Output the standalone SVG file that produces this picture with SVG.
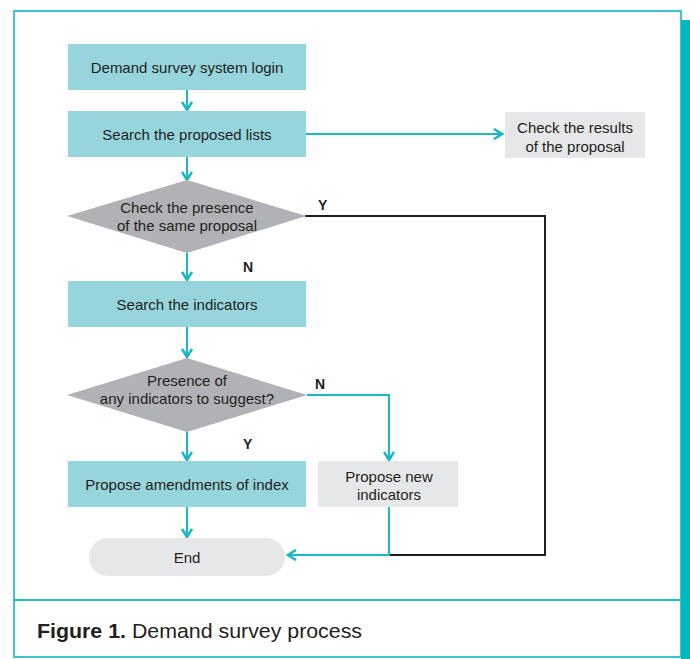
<svg xmlns="http://www.w3.org/2000/svg" width="690" height="659" viewBox="0 0 690 659">
<defs>
<style>
.box{fill:#96d5dc}
.gbox{fill:#e6e7e8}
.dia{fill:#b1b2b6}
.t{font-family:"Liberation Sans",Arial,sans-serif;font-size:15px;fill:#231f20;text-anchor:middle}
.lbl{font-family:"Liberation Sans",Arial,sans-serif;font-size:14px;font-weight:bold;fill:#231f20}
.c{fill:none;stroke:#1ab8c0;stroke-width:2}
.k{fill:none;stroke:#231f20;stroke-width:2}
</style>
<marker id="ah" viewBox="0 0 12 12" refX="10" refY="6" markerWidth="12" markerHeight="12" markerUnits="userSpaceOnUse" orient="auto">
<path d="M2,1 L10,6 L2,11" fill="none" stroke="#1ab8c0" stroke-width="2.6"/>
</marker>
</defs>
<rect width="690" height="659" fill="#ffffff"/>
<g id="frame">
<rect x="14" y="11" width="667" height="646" fill="none" stroke="#3cc6c9" stroke-width="2"/>
<line x1="14" y1="600" x2="681" y2="600" stroke="#1fc0c5" stroke-width="2"/>
<rect x="681" y="20" width="9" height="639" fill="#00b8bf"/>
</g>
<g id="connectors">
<line class="c" x1="187" y1="90" x2="187" y2="110" marker-end="url(#ah)"/>
<line class="c" x1="306" y1="134" x2="502" y2="134" marker-end="url(#ah)"/>
<line class="c" x1="187" y1="157" x2="187" y2="180" marker-end="url(#ah)"/>
<line class="c" x1="187" y1="253" x2="187" y2="280" marker-end="url(#ah)"/>
<line class="c" x1="187" y1="327" x2="187" y2="357" marker-end="url(#ah)"/>
<line class="c" x1="187" y1="432" x2="187" y2="460" marker-end="url(#ah)"/>
<line class="c" x1="187" y1="507" x2="187" y2="537" marker-end="url(#ah)"/>
<polyline class="c" points="307,395 389,395 389,460" marker-end="url(#ah)"/>
<polyline class="k" points="305,216 545,216 545,555 389,555"/>
<polyline class="c" points="389,507 389,555 288,555" marker-end="url(#ah)"/>
<text class="lbl" x="318" y="210">Y</text>
<text class="lbl" x="243" y="272">N</text>
<text class="lbl" x="315" y="389">N</text>
<text class="lbl" x="243" y="449">Y</text>
</g>
<g id="n1"><rect class="box" x="68" y="44" width="238" height="46"/><text class="t" x="187" y="73">Demand survey system login</text></g>
<g id="n2"><rect class="box" x="68" y="111" width="238" height="46"/><text class="t" x="187" y="140">Search the proposed lists</text></g>
<g id="n3"><rect class="gbox" x="505" y="112" width="140" height="46"/><text class="t" x="575" y="133">Check the results</text><text class="t" x="575" y="152">of the proposal</text></g>
<g id="d1"><polygon class="dia" points="187,180 306,216 187,253 67,216"/><text class="t" x="187" y="213">Check the presence</text><text class="t" x="187" y="231">of the same proposal</text></g>
<g id="n4"><rect class="box" x="68" y="281" width="238" height="46"/><text class="t" x="187" y="310">Search the indicators</text></g>
<g id="d2"><polygon class="dia" points="187,358 307,395 187,432 67,395"/><text class="t" x="187" y="386">Presence of</text><text class="t" x="187" y="404">any indicators to suggest?</text></g>
<g id="n5"><rect class="box" x="68" y="461" width="238" height="46"/><text class="t" x="187" y="490">Propose amendments of index</text></g>
<g id="n6"><rect class="gbox" x="318" y="461" width="140" height="46"/><text class="t" x="389" y="482">Propose new</text><text class="t" x="389" y="500">indicators</text></g>
<g id="end"><rect class="gbox" x="89" y="538" width="196" height="38" rx="19"/><text class="t" x="187" y="563">End</text></g>
<g id="caption"><text x="37" y="638" font-family="'Liberation Sans',Arial,sans-serif" font-size="20" fill="#231f20" textLength="325" lengthAdjust="spacingAndGlyphs"><tspan font-weight="bold">Figure 1.</tspan> Demand survey process</text></g>
</svg>
